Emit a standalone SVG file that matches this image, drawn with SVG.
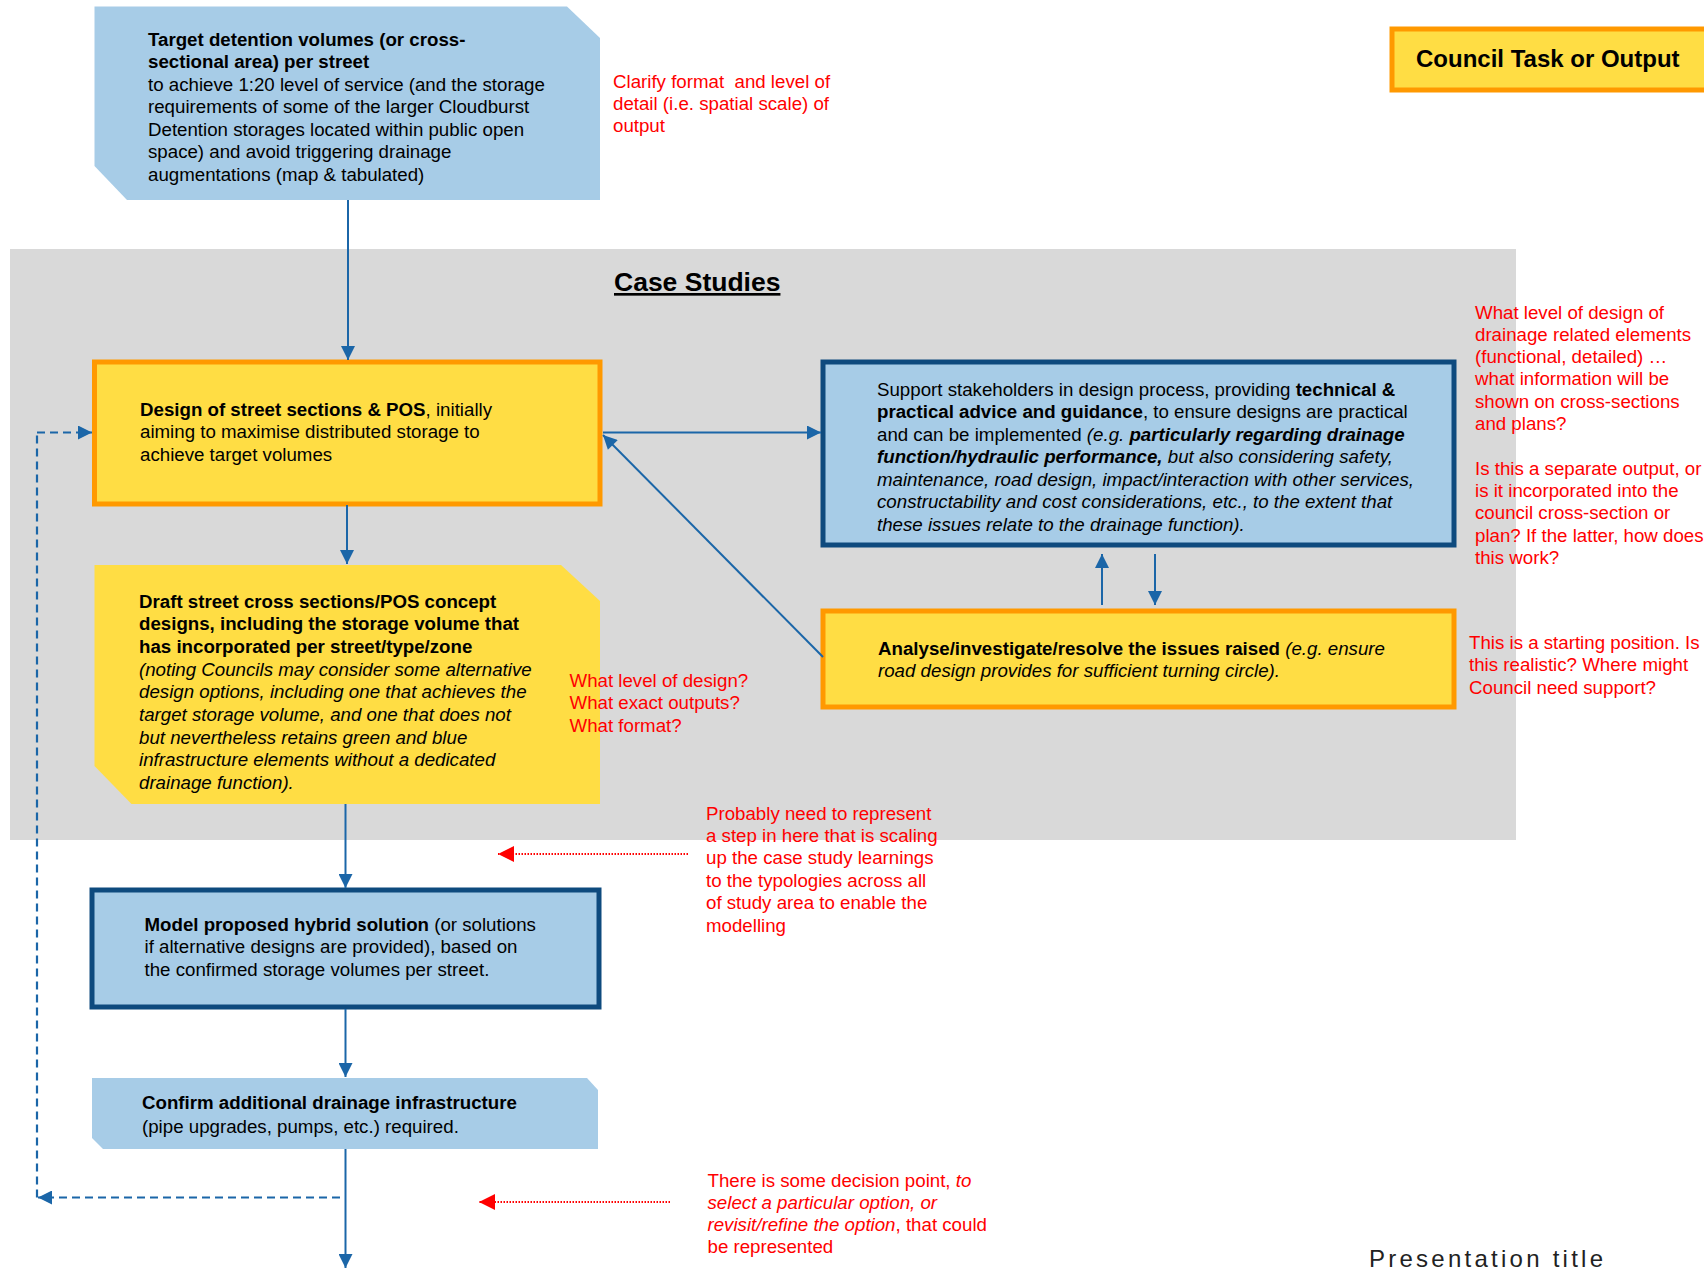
<svg xmlns="http://www.w3.org/2000/svg" width="1704" height="1269" viewBox="0 0 1704 1269">
<style>
text{font-family:"Liberation Sans",Arial,sans-serif;font-size:18.7px;fill:#000}
.r{fill:#FF0000}
.b{font-weight:bold}
.i{font-style:italic}
.blue{fill:#A7CCE7}
.yel{fill:#FFDD44}
.orb{stroke:#FF9900;stroke-width:5}
.dbb{stroke:#0E4A7E;stroke-width:5}
.con{stroke:#1B66A8;stroke-width:2;fill:none}
.dash{stroke:#1B66A8;stroke-width:2.2;fill:none;stroke-dasharray:8 5}
.dot{stroke:#FF0000;stroke-width:2;fill:none;stroke-dasharray:1.5 1.5}
</style>
<defs>
<marker id="ab" viewBox="0 0 10 10" refX="10" refY="5" markerUnits="userSpaceOnUse" markerWidth="16" markerHeight="14" orient="auto">
<path d="M0,0 L10,5 L0,10 z" fill="#1B66A8"/>
</marker>
<marker id="ar" viewBox="0 0 10 10" refX="10" refY="5" markerUnits="userSpaceOnUse" markerWidth="16" markerHeight="16" orient="auto">
<path d="M0,0 L10,5 L0,10 z" fill="#FF0000"/>
</marker>
</defs>
<rect width="1704" height="1269" fill="#FFFFFF"/>
<rect id="case-studies-panel" x="10" y="249" width="1506" height="591" fill="#D9D9D9"/>
<text class="b" x="614" y="291" style="font-size:26.5px;text-decoration:underline">Case Studies</text>

<g id="council-legend">
<rect x="1392" y="29" width="330" height="61" class="yel orb"/>
<text class="b" x="1416" y="67" style="font-size:24px">Council Task or Output</text>
</g>

<g id="target-volumes">
<polygon class="blue" points="94.5,6.5 567,6.5 600,38 600,200 127,200 94.5,166"/>
<text x="148" y="45.5"><tspan class="b">Target detention volumes (or cross-</tspan><tspan class="b" x="148" dy="22.5">sectional area) per street</tspan><tspan x="148" dy="22.5">to achieve 1:20 level of service (and the storage</tspan><tspan x="148" dy="22.5">requirements of some of the larger Cloudburst</tspan><tspan x="148" dy="22.5">Detention storages located within public open</tspan><tspan x="148" dy="22.5">space) and avoid triggering drainage</tspan><tspan x="148" dy="22.5">augmentations (map &amp; tabulated)</tspan></text>
</g>

<g id="note-clarify">
<text class="r" x="613" y="87.5">Clarify format&#160; and level of<tspan x="613" dy="22.3">detail (i.e. spatial scale) of</tspan><tspan x="613" dy="22.3">output</tspan></text>
</g>

<g id="design-street">
<rect x="94.5" y="362" width="505.5" height="142" class="yel orb"/>
<text x="140" y="415.5"><tspan class="b">Design of street sections &amp; POS</tspan>, initially<tspan x="140" dy="22.6">aiming to maximise distributed storage to</tspan><tspan x="140" dy="22.6">achieve target volumes</tspan></text>
</g>

<g id="support-stakeholders">
<rect x="823" y="362" width="631" height="183" class="blue dbb"/>
<text x="877" y="395.5">Support stakeholders in design process, providing <tspan class="b">technical &amp;</tspan><tspan x="877" dy="22.5" class="b">practical advice and guidance</tspan>, to ensure designs are practical<tspan x="877" dy="22.5">and can be implemented </tspan><tspan class="i">(e.g. </tspan><tspan class="b i">particularly regarding drainage</tspan><tspan x="877" dy="22.5" class="b i">function/hydraulic performance,</tspan><tspan class="i"> but also considering safety,</tspan><tspan x="877" dy="22.5" class="i">maintenance, road design, impact/interaction with other services,</tspan><tspan x="877" dy="22.5" class="i">constructability and cost considerations, etc., to the extent that</tspan><tspan x="877" dy="22.5" class="i">these issues relate to the drainage function).</tspan></text>
</g>

<g id="note-design-level">
<text class="r" x="1475" y="318.5">What level of design of<tspan x="1475" dy="22.3">drainage related elements</tspan><tspan x="1475" dy="22.3">(functional, detailed) …</tspan><tspan x="1475" dy="22.3">what information will be</tspan><tspan x="1475" dy="22.3">shown on cross-sections</tspan><tspan x="1475" dy="22.3">and plans?</tspan><tspan x="1475" dy="44.6">Is this a separate output, or</tspan><tspan x="1475" dy="22.3">is it incorporated into the</tspan><tspan x="1475" dy="22.3">council cross-section or</tspan><tspan x="1475" dy="22.3">plan? If the latter, how does</tspan><tspan x="1475" dy="22.3">this work?</tspan></text>
</g>

<g id="draft-cross-sections">
<polygon class="yel" points="94.5,565 561,565 600,601 600,804 131.5,804 94.5,766"/>
<text x="139" y="607.5"><tspan class="b">Draft street cross sections/POS concept</tspan><tspan x="139" dy="22.7" class="b">designs, including the storage volume that</tspan><tspan x="139" dy="22.7" class="b">has incorporated per street/type/zone</tspan><tspan x="139" dy="22.7" class="i">(noting Councils may consider some alternative</tspan><tspan x="139" dy="22.7" class="i">design options, including one that achieves the</tspan><tspan x="139" dy="22.7" class="i">target storage volume, and one that does not</tspan><tspan x="139" dy="22.7" class="i">but nevertheless retains green and blue</tspan><tspan x="139" dy="22.7" class="i">infrastructure elements without a dedicated</tspan><tspan x="139" dy="22.7" class="i">drainage function).</tspan></text>
</g>

<g id="note-what-level">
<text class="r" x="569.5" y="686.5">What level of design?<tspan x="569.5" dy="22.6">What exact outputs?</tspan><tspan x="569.5" dy="22.6">What format?</tspan></text>
</g>

<g id="analyse-issues">
<rect x="823" y="611" width="631" height="96" class="yel orb"/>
<text x="878" y="654.5"><tspan class="b">Analyse/investigate/resolve the issues raised</tspan><tspan class="i"> (e.g. ensure</tspan><tspan x="878" dy="22" class="i">road design provides for sufficient turning circle).</tspan></text>
</g>

<g id="note-starting">
<text class="r" x="1469" y="648.5">This is a starting position. Is<tspan x="1469" dy="22.8">this realistic? Where might</tspan><tspan x="1469" dy="22.8">Council need support?</tspan></text>
</g>

<g id="model-hybrid">
<rect x="92" y="890" width="507" height="117" class="blue dbb"/>
<text x="144.5" y="930.5"><tspan class="b">Model proposed hybrid solution</tspan> (or solutions<tspan x="144.5" dy="22.8">if alternative designs are provided), based on</tspan><tspan x="144.5" dy="22.8">the confirmed storage volumes per street.</tspan></text>
</g>

<g id="note-scaling">
<text class="r" x="706" y="819.5">Probably need to represent<tspan x="706" dy="22.4">a step in here that is scaling</tspan><tspan x="706" dy="22.4">up the case study learnings</tspan><tspan x="706" dy="22.4">to the typologies across all</tspan><tspan x="706" dy="22.4">of study area to enable the</tspan><tspan x="706" dy="22.4">modelling</tspan></text>
</g>

<g id="confirm-drainage">
<polygon class="blue" points="92,1078 587,1078 598,1090 598,1149 103,1149 92,1138"/>
<text x="142" y="1108.5"><tspan class="b">Confirm additional drainage infrastructure</tspan><tspan x="142" dy="24">(pipe upgrades, pumps, etc.) required.</tspan></text>
</g>

<g id="note-decision">
<text class="r" x="707.5" y="1186.5">There is some decision point, <tspan class="i">to</tspan><tspan x="707.5" dy="22.2" class="i">select a particular option, or</tspan><tspan x="707.5" dy="22.2" class="i">revisit/refine the option</tspan>, that could<tspan x="707.5" dy="22.2">be represented</tspan></text>
</g>

<text x="1369" y="1267" style="font-size:24px;letter-spacing:3.25px;fill:#222">Presentation title</text>

<g id="connectors">
<line class="con" x1="348" y1="200" x2="348" y2="360" marker-end="url(#ab)"/>
<line class="con" x1="347" y1="505" x2="347" y2="564" marker-end="url(#ab)"/>
<line class="con" x1="345.5" y1="804" x2="345.5" y2="888" marker-end="url(#ab)"/>
<line class="con" x1="345.5" y1="1009" x2="345.5" y2="1077" marker-end="url(#ab)"/>
<line class="con" x1="345.5" y1="1149" x2="345.5" y2="1268" marker-end="url(#ab)"/>
<line class="con" x1="603" y1="432.5" x2="821" y2="432.5" marker-end="url(#ab)"/>
<line class="con" x1="823" y1="657" x2="603" y2="435" marker-end="url(#ab)"/>
<line class="con" x1="1102" y1="605" x2="1102" y2="554" marker-end="url(#ab)"/>
<line class="con" x1="1155" y1="554" x2="1155" y2="605" marker-end="url(#ab)"/>
<line class="dash" x1="340" y1="1197.5" x2="38" y2="1197.5" marker-end="url(#ab)"/>
<line class="dash" x1="37" y1="1197.5" x2="37" y2="432.5"/>
<line class="dash" x1="37" y1="432.5" x2="92" y2="432.5" marker-end="url(#ab)"/>
<line class="dot" x1="688" y1="854" x2="498" y2="854" marker-end="url(#ar)"/>
<line class="dot" x1="670" y1="1202" x2="479" y2="1202" marker-end="url(#ar)"/>
</g>
</svg>
